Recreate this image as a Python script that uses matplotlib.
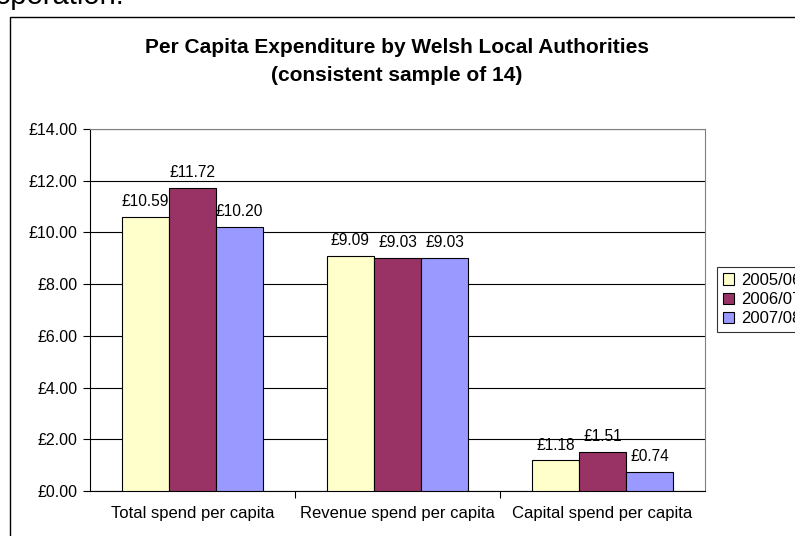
import matplotlib
matplotlib.use("Agg")
import matplotlib.pyplot as plt
import numpy as np
from matplotlib.patches import Rectangle

plt.rcParams["font.family"] = ["Liberation Sans", "DejaVu Sans"]

# --- Data ---
categories = ["Total spend per capita", "Revenue spend per capita", "Capital spend per capita"]
years = ["2005/06", "2006/07", "2007/08"]
v_0506 = [10.59, 9.09, 1.18]
v_0607 = [11.72, 9.03, 1.51]
v_0708 = [10.20, 9.03, 0.74]
colors = ["#FFFFCC", "#993366", "#9999FF"]

fig = plt.figure(figsize=(7.95, 5.36), dpi=100)
ax = fig.add_axes([90 / 795, 1 - 491 / 536, 615 / 795, 362 / 536])

# outer chart border (runs off the page on right/bottom)
fig.patches.append(Rectangle((10 / 795, -0.1), 1.2, 1 - 17 / 536 + 0.1,
                             transform=fig.transFigure, fill=False,
                             edgecolor="black", linewidth=1.0, zorder=0))
# tail of the document text above the chart
fig.text(-0.006, 1 - 4.5 / 536, "operation.", fontsize=21, va="baseline", ha="left")

x = np.arange(len(categories))
width = 0.23
series = [v_0506, v_0607, v_0708]
for i, (vals, col, lab) in enumerate(zip(series, colors, years)):
    pos = x + (i - 1) * width
    ax.bar(pos, vals, width, color=col, edgecolor="black", linewidth=0.8,
           label=lab, zorder=3)
    for p, v in zip(pos, vals):
        ax.text(p, v + 0.3, f"£{v:.2f}", ha="center", va="bottom", fontsize=11.2)

ax.set_xlim(-0.5, 2.5)
ax.set_ylim(0, 14)
ax.set_yticks(np.arange(0, 15, 2))
ax.set_yticklabels([f"£{t:.2f}" for t in np.arange(0, 15, 2)], fontsize=11.5)
ax.set_xticks([0.5, 1.5], minor=False)
ax.set_xticklabels([])
ax.set_xticks(x, minor=True)
ax.set_xticklabels(categories, minor=True, fontsize=12)
ax.tick_params(axis="x", which="minor", length=0, pad=11)
ax.tick_params(axis="x", which="major", length=5, direction="out", color="black")
ax.tick_params(axis="y", length=5, direction="out", pad=4)
ax.grid(True, axis="y", color="black", linewidth=0.8, zorder=0)
ax.set_axisbelow(True)

for s in ["top", "right"]:
    ax.spines[s].set_color("#808080")
ax.spines["left"].set_color("black")
ax.spines["bottom"].set_color("black")

fig.suptitle("Per Capita Expenditure by Welsh Local Authorities\n(consistent sample of 14)",
             fontsize=15, fontweight="bold", x=397 / 795, y=1 - 38 / 536, va="top",
             linespacing=1.6)

leg = fig.legend(loc="upper left", bbox_to_anchor=(717 / 795, 1 - 267 / 536),
                 fontsize=12, frameon=True, fancybox=False, edgecolor="black",
                 handlelength=0.65, handleheight=0.65, handletextpad=0.45,
                 borderaxespad=0, borderpad=0.35, labelspacing=0.25)
leg.get_frame().set_linewidth(0.8)

fig.savefig("out.png", dpi=100)
